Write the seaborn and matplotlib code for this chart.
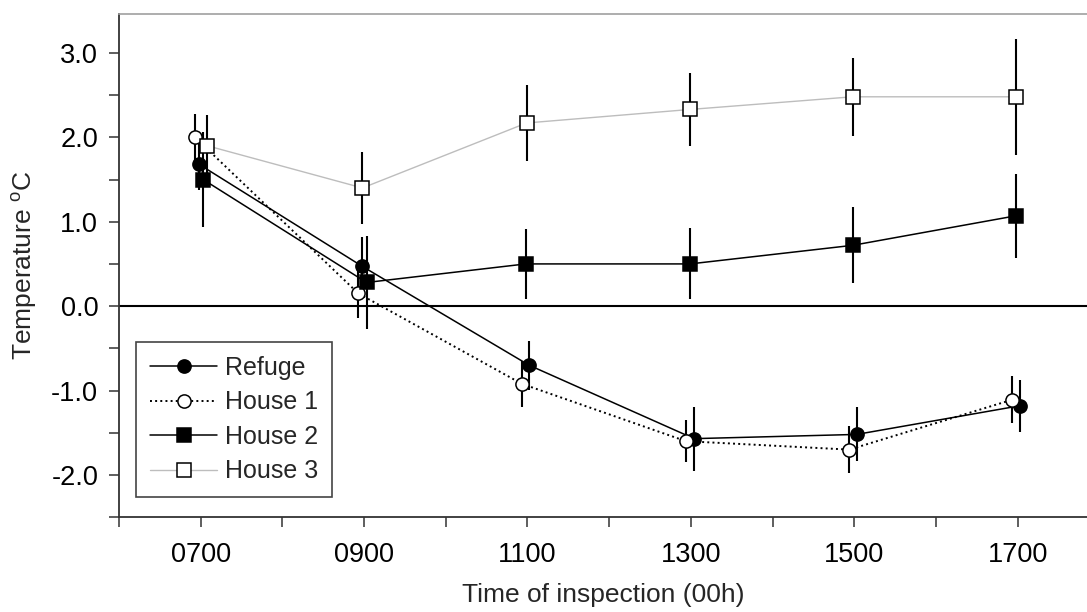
import numpy as np
import pandas as pd
import seaborn as sns
import matplotlib.pyplot as plt
from matplotlib.ticker import MultipleLocator, FixedLocator, FuncFormatter

# inspection times (00h) (points are slightly staggered)
refuge_t = [698, 898, 1102, 1304, 1503, 1703]
house1_t = [693, 893, 1093, 1294, 1494, 1693]
house2_t = [703, 903, 1098, 1299, 1498, 1698]
house3_t = [708, 898, 1099, 1299, 1498, 1698]

refuge = [1.68, 0.47, -0.70, -1.57, -1.52, -1.18]
house1 = [2.00, 0.15, -0.92, -1.60, -1.70, -1.11]
house2 = [1.50, 0.28, 0.50, 0.50, 0.72, 1.07]
house3 = [1.90, 1.40, 2.17, 2.33, 2.48, 2.48]

refuge_err = [0.30, 0.35, 0.29, 0.38, 0.32, 0.31]
house1_err = [0.28, 0.29, 0.27, 0.25, 0.28, 0.28]
house2_err = [0.56, 0.55, 0.41, 0.42, 0.45, 0.50]
house3_err = [0.37, 0.43, 0.45, 0.43, 0.46, 0.69]

tick_times = [700, 900, 1100, 1300, 1500, 1700]

sns.set_style("ticks")
plt.rcParams['font.family'] = ['Liberation Sans', 'DejaVu Sans']
plt.rcParams['mathtext.fontset'] = 'custom'
plt.rcParams['mathtext.rm'] = 'Liberation Sans'

fig = plt.figure(figsize=(10.87, 6.12), dpi=100)
ax = fig.add_axes([0.1095, 0.155, 0.8905, 0.822])

series = [
    ("Refuge", refuge_t, refuge, refuge_err, dict(color="black", linestyle="-", linewidth=1.1,
                                                   marker="o", markerfacecolor="black")),
    ("House 1", house1_t, house1, house1_err, dict(color="black", linestyle=":", linewidth=1.4,
                                                    marker="o", markerfacecolor="white")),
    ("House 2", house2_t, house2, house2_err, dict(color="black", linestyle="-", linewidth=1.1,
                                                    marker="s", markerfacecolor="black")),
    ("House 3", house3_t, house3, house3_err, dict(color="#bdbdbd", linestyle="-", linewidth=1.0,
                                                    marker="s", markerfacecolor="white")),
]

ax.axhline(0, color="black", linewidth=1.5, zorder=1)

for name, t, v, e, kw in series:
    ax.errorbar(t, v, yerr=e, fmt="none", ecolor="black", elinewidth=1.5, capsize=0, zorder=2)
    sns.lineplot(x=t, y=v, ax=ax, label=name, markersize=9.5, markeredgecolor="black",
                 markeredgewidth=1.1, zorder=3, **kw)

ax.set_xlim(600, 1785)
ax.set_ylim(-2.5, 3.46)

ax.xaxis.set_major_locator(FixedLocator(tick_times))
ax.xaxis.set_major_formatter(FuncFormatter(lambda v, p: "%04d" % int(round(v))))
ax.xaxis.set_minor_locator(MultipleLocator(100))
ax.yaxis.set_major_locator(MultipleLocator(1.0))
ax.yaxis.set_major_formatter(FuncFormatter(lambda v, p: "%.1f" % v))
ax.yaxis.set_minor_locator(MultipleLocator(0.5))
ax.tick_params(axis="both", which="both", direction="out", length=7, width=1.1,
               colors="#333333", labelcolor="black", labelsize=19.5, pad=8)
ax.tick_params(axis="x", which="both", pad=11)

for s in ["left", "bottom"]:
    ax.spines[s].set_color("#333333")
    ax.spines[s].set_linewidth(1.3)
ax.spines["top"].set_color("#a0a0a0")
ax.spines["top"].set_linewidth(1.2)
ax.spines["right"].set_visible(False)

ax.set_xlabel("Time of inspection (00h)", fontsize=19, labelpad=11)
ax.set_ylabel("Temperature $^{\\mathrm{o}}$C", fontsize=19, labelpad=9)

leg = ax.legend(loc="lower left", bbox_to_anchor=(0.0176, 0.04), borderaxespad=0,
                fontsize=18, frameon=True, fancybox=False, framealpha=1,
                edgecolor="#444444", handlelength=2.7, handletextpad=0.3,
                labelspacing=0.42, borderpad=0.55)
leg.get_frame().set_linewidth(1.2)

plt.savefig("out.png", dpi=100)
